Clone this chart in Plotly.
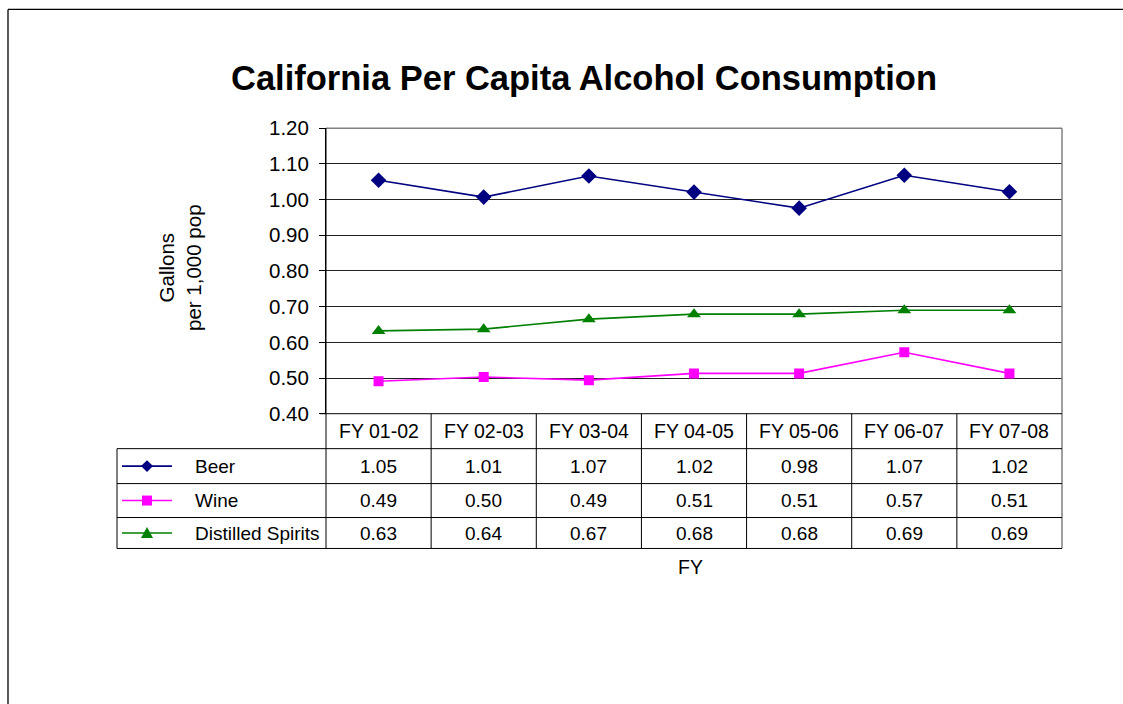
import plotly.graph_objects as go

W, H = 1123, 704

categories = ["FY 01-02", "FY 02-03", "FY 03-04", "FY 04-05", "FY 05-06", "FY 06-07", "FY 07-08"]
beer = [1.054, 1.007, 1.066, 1.021, 0.976, 1.068, 1.022]
wine = [0.491, 0.503, 0.494, 0.513, 0.513, 0.572, 0.513]
spirits = [0.632, 0.637, 0.665, 0.679, 0.679, 0.690, 0.690]
series_names = ["Beer", "Wine", "Distilled Spirits"]
y_ticks = [0.40, 0.50, 0.60, 0.70, 0.80, 0.90, 1.00, 1.10, 1.20]

FONT = "Arial, Liberation Sans, sans-serif"
NAVY, MAGENTA, GREEN = "#000080", "#FF00FF", "#008000"
FS = 19.5

# empirical correction of the capture's vertical mapping
VS, VOFF = 0.969, 9.6


def px(x):
    return x / W


def py(y):
    fy = (y - VOFF) / VS
    return 1 - fy / H


# pixel geometry (reference coordinates)
PL, PR, PT, PB = 326, 1062, 126, 412
ROWS = [412, 447, 482, 516, 547]
TABLE_LEFT = 117

fig = go.Figure()
series = [
    (beer, NAVY, "diamond", 12),
    (wine, MAGENTA, "square", 10),
    (spirits, GREEN, "triangle-up", 12),
]
for (vals, col, sym, sz), name in zip(series, series_names):
    fig.add_trace(go.Scatter(
        x=categories, y=vals, name=name, mode="lines+markers",
        line=dict(color=col, width=1.6),
        marker=dict(symbol=sym, size=sz, color=col, line=dict(width=0)),
    ))

shapes = []
line_blk = dict(color="#000000", width=1)
line_gry = dict(color="#808080", width=1.5)


def hline(y, x0, x1, ln=line_blk):
    shapes.append(dict(type="line", xref="paper", yref="paper",
                       x0=px(x0), x1=px(x1), y0=py(y), y1=py(y), line=ln, layer="above"))


def vline(x, y0, y1, ln=line_blk):
    shapes.append(dict(type="line", xref="paper", yref="paper",
                       x0=px(x), x1=px(x), y0=py(y0), y1=py(y1), line=ln, layer="above"))


# outer chart border (top and left)
hline(7, 8, W, dict(color="#000", width=1.3))
vline(8, 7, H + 30, dict(color="#000", width=1.3))

# plot area top/right border
hline(PT, PL, PR, line_gry)
vline(PR, PT, ROWS[-1], line_gry)

# table rows
hline(PB, PL - 6, PR)
for y in ROWS[1:]:
    hline(y, TABLE_LEFT, PR)
vline(TABLE_LEFT, ROWS[1], ROWS[-1])
vline(PL, PT, ROWS[-1])

# vertical separators at category boundaries
for i in range(1, len(categories)):
    shapes.append(dict(type="line", xref="x", yref="paper",
                       x0=i - 0.5, x1=i - 0.5, y0=py(PB), y1=py(ROWS[-1]),
                       line=line_blk, layer="above"))

annotations = []
for i, c in enumerate(categories):
    annotations.append(dict(x=c, xref="x", y=py((ROWS[0] + ROWS[1]) / 2), yref="paper",
                            text=c, showarrow=False, yanchor="middle", xanchor="center",
                            font=dict(family=FONT, size=FS, color="#000")))
for r, vals in enumerate([beer, wine, spirits]):
    yc = (ROWS[r + 1] + ROWS[r + 2]) / 2
    for c, v in zip(categories, vals):
        annotations.append(dict(x=c, xref="x", y=py(yc), yref="paper",
                                text=f"{v:.2f}", showarrow=False, yanchor="middle",
                                xanchor="center", font=dict(family=FONT, size=19, color="#000")))

# legend keys in table
for r, ((vals, col, sym, sz), name) in enumerate(zip(series, series_names)):
    yc = (ROWS[r + 1] + ROWS[r + 2]) / 2
    shapes.append(dict(type="line", xref="paper", yref="paper", x0=px(122), x1=px(172),
                       y0=py(yc), y1=py(yc), line=dict(color=col, width=1.6), layer="above"))
    cx = 147
    if sym == "diamond":
        path = f"M {px(cx-6)},{py(yc)} L {px(cx)},{py(yc-6)} L {px(cx+6)},{py(yc)} L {px(cx)},{py(yc+6)} Z"
    elif sym == "square":
        path = f"M {px(cx-5)},{py(yc-5)} L {px(cx+5)},{py(yc-5)} L {px(cx+5)},{py(yc+5)} L {px(cx-5)},{py(yc+5)} Z"
    else:
        path = f"M {px(cx-6)},{py(yc+5)} L {px(cx+6)},{py(yc+5)} L {px(cx)},{py(yc-6)} Z"
    shapes.append(dict(type="path", xref="paper", yref="paper", path=path,
                       fillcolor=col, line=dict(width=0), layer="above"))
    annotations.append(dict(x=px(193), xref="paper", y=py(yc), yref="paper", text=name,
                            showarrow=False, xanchor="left", yanchor="middle",
                            font=dict(family=FONT, size=19, color="#000")))

annotations.append(dict(x=px(584), y=py(76), xref="paper", yref="paper",
                        text="<b>California Per Capita Alcohol Consumption</b>",
                        showarrow=False, xanchor="center", yanchor="middle",
                        font=dict(family=FONT, size=34.5, color="#000")))
annotations.append(dict(x=px(180), y=py(266), xref="paper", yref="paper",
                        text="Gallons<br>per 1,000 pop", textangle=-90,
                        showarrow=False, xanchor="center", yanchor="middle",
                        font=dict(family=FONT, size=20.5, color="#000")))
annotations.append(dict(x=px(690), y=py(566), xref="paper", yref="paper",
                        text="FY", showarrow=False, xanchor="center", yanchor="middle",
                        font=dict(family=FONT, size=FS, color="#000")))

fig.update_layout(
    width=W, height=H, margin=dict(l=0, r=0, t=0, b=0),
    showlegend=False, plot_bgcolor="white", paper_bgcolor="white",
    xaxis=dict(domain=[px(PL), px(PR)], type="category", range=[-0.5, 6.5],
               showticklabels=False, showgrid=False, zeroline=False, showline=False,
               ticks=""),
    yaxis=dict(domain=[py(PB), py(PT)], range=[0.4, 1.2], tickvals=y_ticks,
               tickformat=".2f", showgrid=True, gridcolor="#222", gridwidth=1,
               showline=True, linecolor="#000", linewidth=1, ticks="outside",
               ticklen=6, tickcolor="#000", ticklabelstandoff=6,
               tickfont=dict(family=FONT, size=20.5, color="#000"), zeroline=False),
    shapes=shapes, annotations=annotations,
)

post = (
    "document.body.style.margin='0';document.body.style.padding='0';"
)
fig.write_html("out.html", config={"displayModeBar": False}, post_script=post)
